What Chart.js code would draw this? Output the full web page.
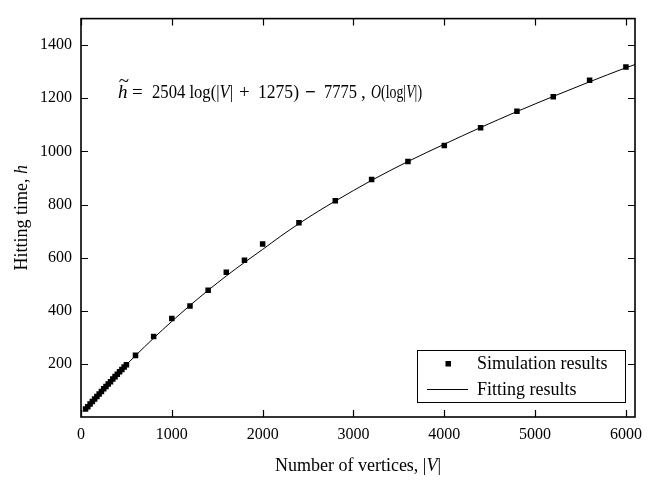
<!DOCTYPE html>
<html>
<head>
<meta charset="utf-8">
<script src="https://cdn.jsdelivr.net/npm/chart.js@4/dist/chart.umd.min.js"></script>
<style>
  html, body { margin: 0; padding: 0; background: #fff; }
  #wrap { width: 664px; height: 480px; }
</style>
</head>
<body>
<div id="wrap"><canvas id="c" width="664" height="480"></canvas></div>
<script>
// Simulated hitting times for graphs of |V| vertices
const simVertices = [50, 75, 100, 125, 150, 175, 200, 225, 250, 275, 300, 325, 350, 375, 400, 425, 450, 475, 500,
  600, 800, 1000, 1200, 1400, 1600, 1800, 2000, 2400, 2800, 3200, 3600, 4000, 4400, 4800, 5200, 5600, 6000];
const simHitting = [30, 39, 49, 58, 68, 77, 87, 96, 106, 115, 124, 133, 143, 152, 161, 170, 179, 188, 197,
  232, 303, 371, 418, 477, 545, 590, 651, 731, 814, 894, 962, 1022, 1089, 1151, 1206, 1268, 1318];

// Fitted logarithmic curve, sampled along |V|
const fitVertices = [20, 100, 200, 300, 400, 500, 600, 800, 1000, 1200, 1400, 1600, 1800, 2000, 2200, 2400,
  2600, 2800, 3200, 3600, 4000, 4400, 4800, 5200, 5600, 6000, 6100];
const fitHitting = [21, 49, 87, 124, 161, 197, 231, 297, 360, 420, 477, 531, 582, 631, 681, 728,
  772, 813, 891, 962, 1027, 1090, 1150, 1207, 1262, 1315, 1327];

const xTicks = [0, 1000, 2000, 3000, 4000, 5000, 6000];
const yTicks = [200, 400, 600, 800, 1000, 1200, 1400];

const legendLabels = ['Simulation results', 'Fitting results'];

const SERIF = '"Liberation Serif", "Times New Roman", serif';

function setFont(ctx, r, size) {
  ctx.font = (r.b ? 'bold ' : '') + (r.i ? 'italic ' : '') + size + 'px ' + SERIF;
}
function drawRuns(ctx, runs, x, y, size) {
  let cx = x;
  runs.forEach(r => {
    setFont(ctx, r, size);
    ctx.fillText(r.t, cx, y);
    cx += ctx.measureText(r.t).width;
  });
  return cx;
}
function runsWidth(ctx, runs, size) {
  let w = 0;
  runs.forEach(r => { setFont(ctx, r, size); w += ctx.measureText(r.t).width; });
  return w;
}

// fitted equation, laid out in groups: [left x, runs, max width]
const eqGroups = [
  [118, [{t: 'h', i: true}], 10],
  [132, [{t: '='}], 13],
  [152, [{t: '2504 log(|'}, {t: 'V', i: true}, {t: '|'}], 81],
  [239, [{t: '+'}], 12],
  [258, [{t: '1275)'}], 41],
  [305, [{t: '−', b: true}], 13],
  [324, [{t: '7775'}], 33],
  [361, [{t: ','}], 5],
  [371, [{t: 'O', i: true}, {t: '(log|'}, {t: 'V', i: true}, {t: '|)'}], 51]
];

const framePlugin = {
  id: 'frame',
  afterDraw(chart) {
    const ctx = chart.ctx;
    const a = chart.chartArea;
    const xs = chart.scales.x, ys = chart.scales.y;
    ctx.save();
    // inward ticks on all four sides
    ctx.strokeStyle = '#000';
    ctx.lineWidth = 1.2;
    ctx.beginPath();
    xTicks.forEach(v => {
      const px = Math.round(xs.getPixelForValue(v)) + 0.5;
      ctx.moveTo(px, a.bottom); ctx.lineTo(px, a.bottom - 7);
      ctx.moveTo(px, a.top); ctx.lineTo(px, a.top + 7);
    });
    yTicks.forEach(v => {
      const py = Math.round(ys.getPixelForValue(v)) + 0.5;
      ctx.moveTo(a.left, py); ctx.lineTo(a.left + 7, py);
      ctx.moveTo(a.right, py); ctx.lineTo(a.right - 7, py);
    });
    ctx.stroke();
    // frame
    ctx.lineWidth = 1.6;
    ctx.strokeRect(a.left, a.top, a.right - a.left, a.bottom - a.top);

    ctx.fillStyle = '#000';
    ctx.textBaseline = 'middle';
    ctx.textAlign = 'left';

    // x axis title
    const xt = [{t: 'Number of vertices, |'}, {t: 'V', i: true}, {t: '|'}];
    const xw = runsWidth(ctx, xt, 18);
    drawRuns(ctx, xt, (a.left + a.right) / 2 - xw / 2, 466, 18);

    // y axis title
    ctx.save();
    ctx.translate(22, (a.top + a.bottom) / 2);
    ctx.rotate(-Math.PI / 2);
    const yt = [{t: 'Hitting time, '}, {t: 'h', i: true}];
    const yw = runsWidth(ctx, yt, 18);
    drawRuns(ctx, yt, -yw / 2, 0, 18);
    ctx.restore();

    // fitted equation
    const fs = 19, base = 98;
    ctx.textBaseline = 'alphabetic';
    eqGroups.forEach(g => {
      const w = runsWidth(ctx, g[1], fs);
      const k = w > g[2] ? g[2] / w : 1;
      ctx.save();
      ctx.translate(g[0], base);
      ctx.scale(k, 1);
      drawRuns(ctx, g[1], 0, 0, fs);
      ctx.restore();
    });
    ctx.textAlign = 'center';
    setFont(ctx, {}, fs);
    ctx.fillText('~', 124, base - 11);

    // legend box
    ctx.textAlign = 'left';
    ctx.textBaseline = 'middle';
    ctx.lineWidth = 1;
    ctx.strokeRect(417.5, 350.5, 208, 52);
    const ds0 = chart.data.datasets[0], ds1 = chart.data.datasets[1];
    ctx.fillStyle = ds0.pointBackgroundColor;
    ctx.fillRect(445.5, 361, 5.5, 5.5);
    ctx.strokeStyle = ds1.borderColor;
    ctx.lineWidth = ds1.borderWidth;
    ctx.beginPath();
    ctx.moveTo(427, 389.5); ctx.lineTo(468, 389.5);
    ctx.stroke();
    ctx.fillStyle = '#000';
    ctx.font = '18px ' + SERIF;
    ctx.fillText(legendLabels[0], 477, 364);
    ctx.fillText(legendLabels[1], 477, 390);
    ctx.restore();
  }
};

new Chart(document.getElementById('c'), {
  type: 'scatter',
  data: {
    datasets: [
      {
        label: legendLabels[0],
        data: simVertices.map((v, i) => ({x: v, y: simHitting[i]})),
        pointStyle: 'rect',
        pointRadius: 3.9,
        pointBorderWidth: 0,
        pointBackgroundColor: '#000',
        pointBorderColor: '#000',
        showLine: false,
        order: 1
      },
      {
        label: legendLabels[1],
        data: fitVertices.map((v, i) => ({x: v, y: fitHitting[i]})),
        showLine: true,
        borderColor: '#000',
        borderWidth: 1,
        pointRadius: 0,
        cubicInterpolationMode: 'monotone',
        fill: false,
        order: 2
      }
    ]
  },
  options: {
    responsive: false,
    animation: false,
    devicePixelRatio: 1,
    layout: { padding: { left: 0, right: 29, top: 8, bottom: 0 } },
    plugins: { legend: { display: false }, tooltip: { enabled: false } },
    scales: {
      x: {
        type: 'linear',
        min: 0, max: 6100,
        grid: { display: false, drawTicks: false },
        border: { display: false },
        ticks: { color: '#000', padding: 8, maxRotation: 0, font: { family: SERIF, size: 16 },
          callback: v => String(v) },
        afterBuildTicks: s => { s.ticks = xTicks.map(v => ({value: v})); },
        afterFit: s => { s.height = 63; }
      },
      y: {
        type: 'linear',
        min: 0, max: 1500,
        grid: { display: false, drawTicks: false },
        border: { display: false },
        ticks: { color: '#000', padding: 9, font: { family: SERIF, size: 16 },
          callback: v => String(v) },
        afterBuildTicks: s => { s.ticks = yTicks.map(v => ({value: v})); },
        afterFit: s => { s.width = 81; }
      }
    }
  },
  plugins: [framePlugin]
});
</script>
</body>
</html>
